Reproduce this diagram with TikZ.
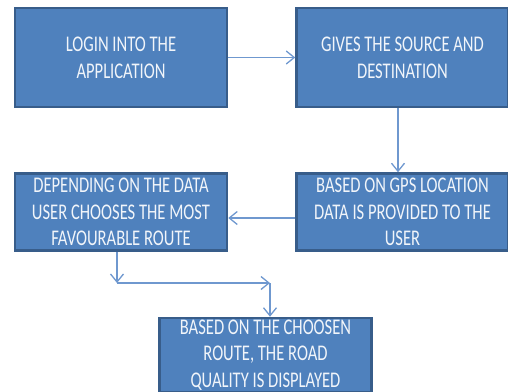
\documentclass[tikz,border=0pt]{standalone}
\usepackage{fontspec}
\usetikzlibrary{positioning,arrows.meta}
\newfontfamily\boxfont[FakeStretch=0.74]{Carlito}
\definecolor{boxfill}{HTML}{4F81BD}
\definecolor{boxline}{HTML}{385D8A}
\definecolor{flowline}{HTML}{6F98CF}
\tikzset{
  stepbox/.style={draw=boxline, line width=2.5pt, fill=boxfill, text=white!92!boxfill,
    minimum width=212pt, text width=205pt, align=flush center, inner sep=0pt,
    font=\boxfont\fontsize{22.4}{26.7}\selectfont},
  flow/.style={draw=flowline, line width=1.3pt, -{Straight Barb[length=8pt,width=13pt]}}
}
\begin{document}
\begin{tikzpicture}[x=1pt, y=1pt, node distance=67pt]
\useasboundingbox (0,0) rectangle (508,-391);
\node[stepbox, minimum height=99pt] (login) at (121,-57.5) {LOGIN INTO THE\\APPLICATION};
\node[stepbox, minimum height=99pt, right=of login] (source) {GIVES THE SOURCE AND\\DESTINATION};
\node[stepbox, minimum height=77pt, below=64pt of source] (gps) {BASED ON GPS LOCATION\\DATA IS PROVIDED TO THE\\USER};
\node[stepbox, minimum height=77pt, left=of gps] (choose) {DEPENDING ON THE DATA\\USER CHOOSES THE MOST\\FAVOURABLE ROUTE};
\node[stepbox, minimum height=74pt, below=65pt of choose, xshift=144.5pt] (quality) {BASED ON THE CHOOSEN\\ROUTE, THE ROAD\\QUALITY IS DISPLAYED};
% bends of the last connector
\coordinate (bend1) at (117,-283);
\coordinate (bend2) at (270,-283);
\draw[flow] (login) -- (source);
\draw[flow] (source.south -| 398,0) -- (gps.north -| 398,0);
\draw[flow] ([yshift=-6pt]gps.west) -- ([yshift=-6pt]choose.east);
\draw[flow] (choose.south -| bend1) -- (bend1);
\draw[flow] (bend1) -- (bend2);
\draw[flow] (bend2) -- (bend2 |- quality.north);
\end{tikzpicture}
\end{document}
